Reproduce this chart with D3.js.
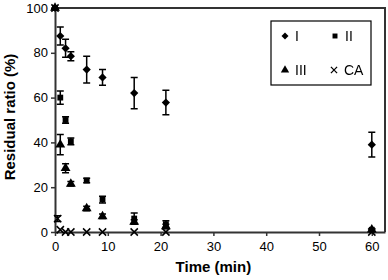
<!DOCTYPE html>
<html>
<head>
<meta charset="utf-8">
<script src="https://cdn.jsdelivr.net/npm/d3@7"></script>
<style>
  body { margin: 0; background: #fff; }
  svg text { font-family: "Liberation Sans", Arial, sans-serif; fill: #000; }
</style>
</head>
<body>
<svg id="chart" width="388" height="280"></svg>
<script>
// data
var times = [0, 1, 2, 3, 6, 9, 15, 21, 60];
var seriesI = [100, 87.5, 82, 78.5, 72.5, 69, 62, 57.8, 39];
var errI = [0, 4, 4, 2, 6, 3.5, 7, 5.5, 5.5];
var seriesII = [100, 60, 50, 40.5, 23, 14.5, 6, 3.5, 1];
var errII = [0, 3, 1.5, 1.5, 1, 1.5, 2.5, 1.5, 0.5];
var seriesIII = [100, 39, 28.5, 21.5, 10.5, 7, 4.5, 2.5, 1];
var errIII = [0, 4.5, 2, 1, 1, 1, 1, 1, 0.5];
var caTimes = [0, 0.5, 1, 2, 3, 6, 9, 15, 21, 60];
var seriesCA = [100, 6, 1, 0, 0, 0, 0, 0, 0, 0];
var errCA = [0, 1.3, 0.5, 0, 0, 0, 0, 0, 0, 0];
var xTicks = [0, 10, 20, 30, 40, 50, 60];
var yTicks = [0, 20, 40, 60, 80, 100];

var margin = {top: 8, right: 3, bottom: 48, left: 55};
var width = 388 - margin.left - margin.right,
    height = 280 - margin.top - margin.bottom;

var svg = d3.select('#chart'),
  g = svg.append('g').attr('transform', 'translate(' + margin.left + ',' + margin.top + ')');

// grey filter so thin legend glyphs are not colour-fringed
svg.append('defs').append('filter').attr('id', 'grey')
  .append('feColorMatrix').attr('type', 'saturate').attr('values', 0);

var x = d3.scaleLinear().domain([0, 62.5]).range([0, width]);
var y = d3.scaleLinear().domain([0, 100]).range([height, 0]);

// frame (top and right)
g.append('path')
  .attr('d', 'M0,0H' + width + 'V' + height)
  .attr('fill', 'none')
  .attr('stroke', '#333')
  .attr('stroke-width', 2);

var xAxis = g.append('g')
  .attr('transform', 'translate(0,' + height + ')')
  .call(d3.axisBottom(x).tickValues(xTicks).tickSize(4).tickSizeOuter(0));
var yAxis = g.append('g')
  .call(d3.axisLeft(y).tickValues(yTicks).tickSize(4).tickSizeOuter(0));

[xAxis, yAxis].forEach(function(a) {
  a.select('.domain').attr('stroke', '#333').attr('stroke-width', 2);
  a.selectAll('.tick line').attr('stroke', '#333').attr('stroke-width', 1.5);
  a.selectAll('.tick text').attr('font-size', 13).attr('fill', '#000')
    .attr('font-family', '"Liberation Sans", Arial, sans-serif');
});
xAxis.selectAll('.tick text').attr('dy', '0.95em');
yAxis.selectAll('.tick text').attr('x', -7);

// axis titles
svg.append('text')
  .attr('x', margin.left + x(30))
  .attr('y', 272)
  .attr('text-anchor', 'middle')
  .attr('font-size', 15)
  .attr('font-weight', 'bold')
  .text('Time (min)');
svg.append('text')
  .attr('transform', 'translate(10,117) rotate(-90)')
  .attr('text-anchor', 'middle')
  .attr('dy', '0.35em')
  .attr('font-size', 15)
  .attr('font-weight', 'bold')
  .text('Residual ratio (%)');

var diamond = d3.symbol().type(d3.symbolSquare).size(34)();
var square = d3.symbol().type(d3.symbolSquare).size(34)();
var triangle = d3.symbol().type(d3.symbolTriangle).size(42)();
var cross = d3.symbol().type(d3.symbolX).size(36)();

var series = [
  {name: 'I', t: times, v: seriesI, e: errI, path: diamond, rot: 45, stroke: false},
  {name: 'II', t: times, v: seriesII, e: errII, path: square, rot: 0, stroke: false},
  {name: 'III', t: times, v: seriesIII, e: errIII, path: triangle, rot: 0, stroke: false},
  {name: 'CA', t: caTimes, v: seriesCA, e: errCA, path: cross, rot: 0, stroke: true}
];

series.forEach(function(s) {
  var pts = s.t.map(function(t, i) { return {t: t, v: s.v[i], e: s.e[i]}; });
  var eg = g.append('g');
  pts.filter(function(d) { return d.e > 0.8; }).forEach(function(d) {
    var cx = x(d.t), y1 = y(d.v + d.e), y2 = y(Math.max(0, d.v - d.e));
    eg.append('path')
      .attr('d', 'M' + cx + ',' + y1 + 'V' + y2 +
        'M' + (cx - 3.5) + ',' + y1 + 'H' + (cx + 3.5) +
        'M' + (cx - 3.5) + ',' + y2 + 'H' + (cx + 3.5))
      .attr('fill', 'none')
      .attr('stroke', '#000')
      .attr('stroke-width', 1.5);
  });
  g.append('g').selectAll('path')
    .data(pts)
    .enter().append('path')
    .attr('d', s.path)
    .attr('transform', function(d) { return 'translate(' + x(d.t) + ',' + y(d.v) + ') rotate(' + s.rot + ')'; })
    .attr('fill', s.stroke ? 'none' : '#000')
    .attr('stroke', s.stroke ? '#000' : 'none')
    .attr('stroke-width', 1.5);
});

// legend
var lg = svg.append('g').attr('transform', 'translate(271,21)');
lg.append('rect')
  .attr('width', 100).attr('height', 64)
  .attr('fill', '#fff').attr('stroke', '#000').attr('stroke-width', 1.2);
var legendPos = [[14, 15], [64, 15], [14, 49], [63, 49]];
var lt = lg.append('g').attr('filter', 'url(#grey)');
series.forEach(function(s, i) {
  var p = legendPos[i];
  lg.append('path')
    .attr('d', s.path)
    .attr('transform', 'translate(' + p[0] + ',' + p[1] + ') rotate(' + s.rot + ') scale(0.85)')
    .attr('fill', s.stroke ? 'none' : '#000')
    .attr('stroke', s.stroke ? '#000' : 'none')
    .attr('stroke-width', 1.5);
  lt.append('text')
    .attr('x', p[0] + 10)
    .attr('y', p[1])
    .attr('dy', '0.36em')
    .attr('font-size', 14)
    .attr('fill', '#222')
    .attr('font-family', '"Open Sans", sans-serif')
    .text(s.name);
});
</script>
</body>
</html>
